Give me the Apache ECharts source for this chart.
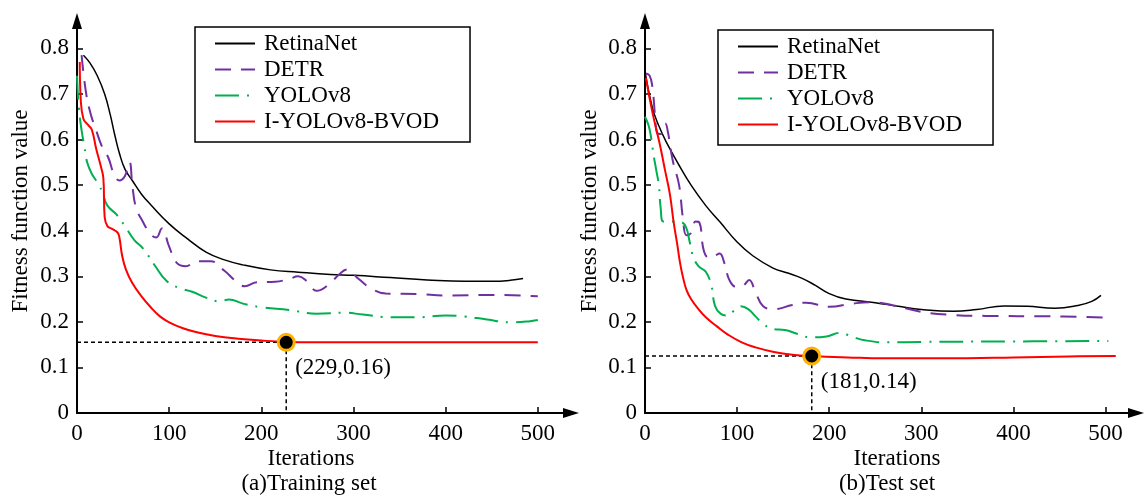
<!DOCTYPE html>
<html><head><meta charset="utf-8">
<script src="https://cdn.jsdelivr.net/npm/echarts@6/dist/echarts.min.js"></script>
<style>html,body{margin:0;padding:0;background:#fff}#c{width:1146px;height:495px}</style>
</head><body><div id="c"></div>
<script>
const seriesNames = ['RetinaNet', 'DETR', 'YOLOv8', 'I-YOLOv8-BVOD'];
const xTicks = [0, 100, 200, 300, 400, 500];
const yTicks = [0, 0.1, 0.2, 0.3, 0.4, 0.5, 0.6, 0.7, 0.8];
const xAxisTitle = 'Iterations';
const yAxisTitle = 'Fitness function value';
const captions = ['(a)Training set', '(b)Test set'];

// (a) Training set
const trainRetinaNet = [[7,0.785],[14,0.768],[22,0.74],[30,0.7],[36,0.655],[41,0.61],[46,0.57],[52,0.535],[60,0.51],[70,0.48],[80,0.457],[100,0.415],[120,0.382],[140,0.353],[160,0.336],[180,0.325],[210,0.314],[240,0.309],[275,0.304],[300,0.302],[340,0.297],[380,0.292],[420,0.289],[450,0.289],[470,0.291],[484,0.295]];
const trainDETR = [[5,0.785],[10,0.7],[15,0.655],[20,0.625],[27,0.585],[34,0.56],[40,0.525],[46,0.51],[52,0.52],[57,0.55],[60,0.5],[64,0.45],[70,0.425],[80,0.392],[86,0.385],[92,0.405],[100,0.365],[108,0.33],[118,0.322],[130,0.333],[145,0.333],[160,0.312],[172,0.29],[182,0.278],[195,0.287],[215,0.288],[230,0.294],[240,0.3],[250,0.288],[260,0.268],[272,0.28],[285,0.305],[293,0.315],[305,0.295],[320,0.272],[335,0.262],[370,0.261],[400,0.258],[450,0.259],[500,0.256]];
const trainYOLOv8 = [[0,0.74],[2,0.67],[5,0.62],[8,0.585],[11,0.55],[16,0.525],[24,0.5],[28,0.48],[33,0.455],[43,0.435],[52,0.41],[62,0.38],[72,0.36],[85,0.322],[97,0.29],[110,0.275],[125,0.266],[140,0.253],[155,0.245],[165,0.249],[180,0.24],[200,0.232],[230,0.226],[260,0.218],[290,0.22],[310,0.216],[340,0.21],[370,0.21],[400,0.214],[420,0.212],[445,0.205],[470,0.199],[490,0.201],[500,0.204]];
const trainBVOD = [[3,0.77],[4,0.69],[7,0.645],[12,0.632],[16,0.622],[21,0.578],[26,0.54],[28.6,0.515],[30,0.43],[33,0.41],[38,0.404],[44,0.396],[46,0.385],[49,0.345],[53,0.315],[60,0.285],[70,0.256],[80,0.232],[90,0.212],[100,0.199],[115,0.186],[130,0.177],[150,0.169],[175,0.163],[200,0.159],[227,0.156],[260,0.155],[300,0.155],[400,0.155],[500,0.155]];
const trainMarker = [227, 0.155];
const trainMarkerText = '(229,0.16)';

// (b) Test set
const testRetinaNet = [[0,0.75],[8,0.67],[15,0.63],[23,0.595],[38,0.54],[50,0.5],[66,0.455],[81,0.42],[100,0.375],[117,0.345],[139,0.318],[155,0.307],[170,0.296],[185,0.28],[200,0.262],[218,0.25],[250,0.242],[275,0.234],[300,0.227],[335,0.223],[360,0.227],[390,0.235],[415,0.234],[445,0.23],[470,0.236],[485,0.245],[495,0.258]];
const testDETR = [[1,0.745],[5,0.74],[8,0.715],[11,0.65],[13,0.615],[17,0.612],[22,0.635],[25,0.615],[30,0.555],[37,0.5],[41,0.43],[45,0.39],[50,0.395],[55,0.42],[59,0.418],[64,0.355],[70,0.34],[76,0.345],[81,0.35],[86,0.33],[92,0.29],[100,0.276],[107,0.28],[113,0.292],[120,0.265],[128,0.235],[140,0.228],[160,0.237],[175,0.242],[200,0.233],[225,0.24],[245,0.243],[270,0.236],[300,0.222],[335,0.215],[370,0.213],[440,0.212],[505,0.209]];
const testYOLOv8 = [[0,0.65],[4,0.63],[7,0.6],[9,0.57],[12,0.535],[15,0.5],[17,0.45],[20,0.42],[30,0.42],[40,0.418],[45,0.405],[48,0.38],[52,0.345],[58,0.322],[66,0.31],[72,0.28],[76,0.235],[82,0.218],[90,0.214],[97,0.225],[104,0.234],[112,0.228],[120,0.212],[128,0.196],[139,0.184],[152,0.182],[165,0.174],[180,0.166],[197,0.168],[212,0.176],[225,0.167],[240,0.159],[262,0.155],[300,0.156],[400,0.157],[503,0.158]];
const testBVOD = [[1,0.735],[8,0.66],[16,0.59],[22,0.53],[27,0.48],[31,0.42],[35,0.37],[38,0.33],[41,0.3],[45,0.27],[50,0.25],[58,0.228],[66,0.21],[78,0.19],[90,0.172],[105,0.155],[120,0.144],[140,0.134],[160,0.128],[181,0.125],[220,0.122],[260,0.12],[300,0.12],[350,0.12],[400,0.122],[460,0.124],[511,0.125]];
const testMarker = [181, 0.125];
const testMarkerText = '(181,0.14)';

const FONT = '"Liberation Serif", "Times New Roman", serif';
const FS = 23;
const styles = [
  {color: '#000000', width: 1.5, type: 'solid'},
  {color: '#7030A0', width: 2, type: [16, 10]},
  {color: '#00B050', width: 2, type: [24, 8, 2, 8]},
  {color: '#FF0000', width: 2, type: 'solid'}
];

const grids = [
  {left: 77, right: 575, top: 21, bottom: 82, containLabel: false},
  {left: 645, right: 10, top: 21, bottom: 82, containLabel: false}
];
const xMaxes = [536, 533];
const yMax = 0.86;

function xAxisCfg(i) {
  return {
    type: 'value', gridIndex: i, min: 0, max: xMaxes[i], interval: 100,
    axisLine: {show: true, onZero: false, lineStyle: {color: '#000', width: 2}, symbol: ['none', 'triangle'], symbolSize: [10, 16]},
    axisTick: {show: true, inside: true, length: 6, lineStyle: {color: '#000', width: 1.5}, customValues: xTicks},
    axisLabel: {customValues: xTicks, fontFamily: FONT, fontSize: FS, color: '#000', margin: 9},
    splitLine: {show: false}
  };
}
function yAxisCfg(i) {
  return {
    type: 'value', gridIndex: i, min: 0, max: yMax, interval: 0.1,
    axisLine: {show: true, onZero: false, lineStyle: {color: '#000', width: 2}, symbol: ['none', 'triangle'], symbolSize: [10, 16]},
    axisTick: {show: true, inside: true, length: 6, lineStyle: {color: '#000', width: 1.5}, customValues: yTicks},
    axisLabel: {customValues: yTicks, fontFamily: FONT, fontSize: FS, color: '#000', margin: 8,
      formatter: v => (Math.abs(v) < 1e-9 ? '0' : (+v).toFixed(1))},
    splitLine: {show: false}
  };
}

function lineSeries(i, name, data, st) {
  return {
    type: 'line', name: name, xAxisIndex: i, yAxisIndex: i, data: data,
    symbol: 'none', showSymbol: false, smooth: 0.45,
    lineStyle: {color: st.color, width: st.width, type: st.type},
    itemStyle: {color: st.color},
    emphasis: {disabled: true}, z: 3
  };
}
function guideSeries(i, pt) {
  return {
    type: 'line', name: 'guide' + i, xAxisIndex: i, yAxisIndex: i,
    data: [[0, pt[1]], [pt[0], pt[1]], [pt[0], 0]],
    symbol: 'none', showSymbol: false,
    lineStyle: {color: '#000', width: 1.5, type: [4, 3]},
    emphasis: {disabled: true}, z: 2, silent: true
  };
}
function markerSeries(i, pt, text) {
  return {
    type: 'scatter', name: 'marker' + i, xAxisIndex: i, yAxisIndex: i,
    data: [pt], symbol: 'circle', symbolSize: 16,
    itemStyle: {color: '#000', borderColor: '#FFB000', borderWidth: 3, opacity: 1},
    label: {show: true, position: 'inside', align: 'left', verticalAlign: 'middle', offset: [9, 26],
      formatter: () => text, fontFamily: FONT, fontSize: FS, color: '#000', opacity: 1,
      textBorderWidth: 0, textShadowBlur: 0},
    emphasis: {disabled: true}, z: 6, silent: true
  };
}

const sets = [
  [trainRetinaNet, trainDETR, trainYOLOv8, trainBVOD],
  [testRetinaNet, testDETR, testYOLOv8, testBVOD]
];
const series = [];
sets.forEach((arrs, i) => {
  arrs.forEach((d, k) => series.push(lineSeries(i, seriesNames[k], d, styles[k])));
  series.push(guideSeries(i, i === 0 ? trainMarker : testMarker));
  series.push(markerSeries(i, i === 0 ? trainMarker : testMarker, i === 0 ? trainMarkerText : testMarkerText));
});

function legendCfg(left, top) {
  return {
    left: left, top: top, orient: 'vertical', data: seriesNames,
    itemWidth: 40, itemHeight: 14, itemGap: 1,
    padding: [4, 31, 8, 19],
    borderColor: '#000', borderWidth: 1.5, backgroundColor: '#fff',
    selectedMode: false,
    itemStyle: {opacity: 0},
    lineStyle: {opacity: 1},
    textStyle: {fontFamily: FONT, fontSize: FS, color: '#000', lineHeight: 25, padding: [0, 0, 0, 4]}
  };
}

function txt(x, y, text, rot) {
  return {type: 'text', x: x, y: y, rotation: rot || 0, silent: true,
    style: {text: text, font: FS + 'px ' + FONT, fill: '#000',
      textAlign: 'center', textVerticalAlign: 'middle', align: 'center', verticalAlign: 'middle'}};
}

const chart = echarts.init(document.getElementById('c'), null, {renderer: 'canvas'});
chart.setOption({
  animation: false,
  backgroundColor: '#fff',
  grid: grids,
  xAxis: [xAxisCfg(0), xAxisCfg(1)],
  yAxis: [yAxisCfg(0), yAxisCfg(1)],
  legend: [legendCfg(195, 27), legendCfg(718, 30)],
  series: series,
  graphic: [
    txt(311, 459, xAxisTitle), txt(309, 484, captions[0]),
    txt(897, 459, xAxisTitle), txt(887, 484, captions[1]),
    txt(21, 211, yAxisTitle, Math.PI / 2), txt(590, 211, yAxisTitle, Math.PI / 2)
  ]
});
</script>
</body></html>
